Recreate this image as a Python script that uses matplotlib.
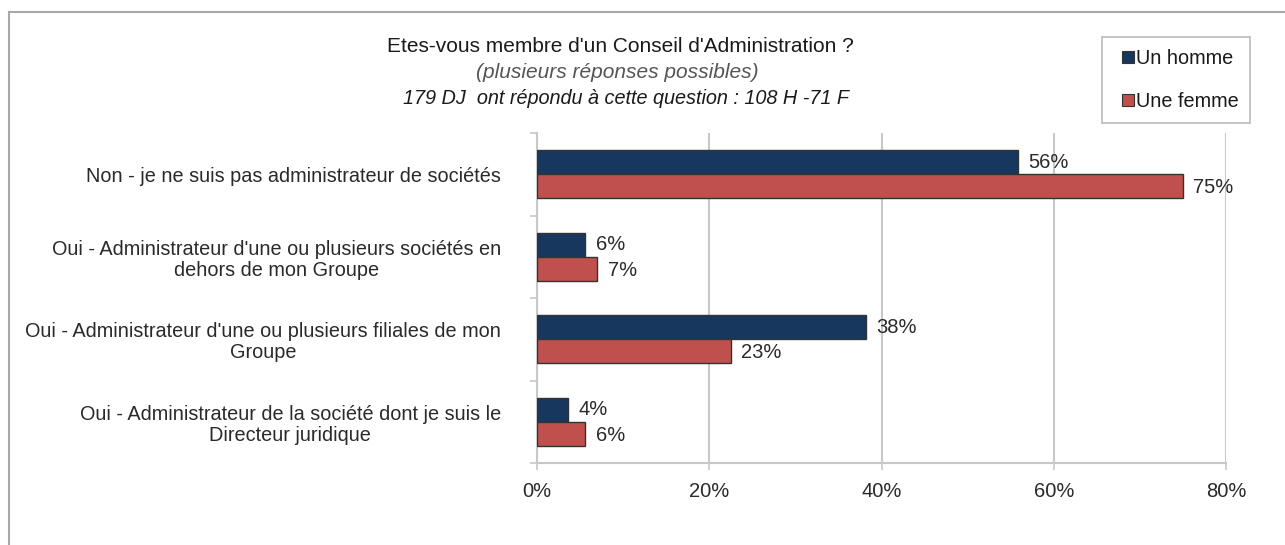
import matplotlib
matplotlib.use("Agg")
import matplotlib.pyplot as plt
from matplotlib.lines import Line2D
import numpy as np

plt.rcParams['font.family'] = ['Liberation Sans', 'DejaVu Sans']

categories = [
    "Non - je ne suis pas administrateur de sociétés",
    "Oui - Administrateur d'une ou plusieurs sociétés en\ndehors de mon Groupe",
    "Oui - Administrateur d'une ou plusieurs filiales de mon\nGroupe",
    "Oui - Administrateur de la société dont je suis le\nDirecteur juridique",
]
homme = [55.8, 5.6, 38.2, 3.6]
femme = [75.0, 7.0, 22.5, 5.6]
homme_labels = ["56%", "6%", "38%", "4%"]
femme_labels = ["75%", "7%", "23%", "6%"]
series_names = ["Un homme", "Une femme"]
xticks = [0, 20, 40, 60, 80]
xtick_labels = ["0%", "20%", "40%", "60%", "80%"]

c_h = "#17375E"
c_f = "#C0504D"
grid_c = "#c8c8c8"
txt_c = "#2a2a2a"

fig = plt.figure(figsize=(12.85, 5.45), dpi=100)
ax = fig.add_axes([537/1285, 1-463/545, (1226-537)/1285, (463-133)/545])

n = len(categories)
y = np.arange(n)
h = 0.29
ax.barh(y - h/2, homme, height=h, color=c_h, edgecolor="#333333", linewidth=1.0, zorder=3)
ax.barh(y + h/2, femme, height=h, color=c_f, edgecolor="#333333", linewidth=1.0, zorder=3)

for i in range(n):
    ax.text(homme[i] + 1.2, y[i] - h/2, homme_labels[i], va="center", ha="left",
            fontsize=14.5, color=txt_c)
    ax.text(femme[i] + 1.2, y[i] + h/2 + 0.02, femme_labels[i], va="center", ha="left",
            fontsize=14.5, color=txt_c)

ax.set_xlim(0, 80)
ax.set_ylim(n - 0.5, -0.5)
ax.set_xticks(xticks)
ax.set_xticklabels(xtick_labels, fontsize=14.5, color=txt_c)
ax.set_yticks(y)
ax.set_yticklabels(categories, fontsize=14.3, color=txt_c, multialignment="center",
                   linespacing=1.15)
ax.set_yticks(np.arange(-0.5, n, 1.0), minor=True)
ax.tick_params(axis="y", which="major", length=0, pad=26)
ax.tick_params(axis="y", which="minor", length=5, color=grid_c, width=1.2)
ax.tick_params(axis="x", length=5, color=grid_c, width=1.2, pad=9)
ax.grid(axis="x", color=grid_c, linewidth=1.5, zorder=0)
for s in ["top", "right"]:
    ax.spines[s].set_visible(False)
for s in ["left", "bottom"]:
    ax.spines[s].set_color(grid_c)
    ax.spines[s].set_linewidth(1.5)

# titles
fig.text(620/1285, 1-46/545, "Etes-vous membre d'un Conseil d'Administration ?",
         ha="center", va="center", fontsize=15, color="#1a1a1a")
fig.text(617/1285, 1-72/545, "(plusieurs réponses possibles)",
         ha="center", va="center", fontsize=15, style="italic", color="#555555")
fig.text(626/1285, 1-98/545, "179 DJ  ont répondu à cette question : 108 H -71 F",
         ha="center", va="center", fontsize=14.3, style="italic", color="#1a1a1a")

# outer frame (left and top edges)
fig.add_artist(Line2D([8.5/1285, 8.5/1285], [0, 1-12/545], transform=fig.transFigure,
                      color="#a8a8a8", linewidth=1.5))
fig.add_artist(Line2D([8.5/1285, 1], [1-12/545, 1-12/545], transform=fig.transFigure,
                      color="#a8a8a8", linewidth=1.5))

handles = [Line2D([], [], marker="s", linestyle="none", markersize=9,
                  markerfacecolor=c_h, markeredgecolor="#333333", markeredgewidth=0.8),
           Line2D([], [], marker="s", linestyle="none", markersize=9,
                  markerfacecolor=c_f, markeredgecolor="#333333", markeredgewidth=0.8)]
leg = fig.legend(handles, series_names, loc="upper left",
                 bbox_to_anchor=(1102/1285, 1-37/545), fontsize=14.3,
                 frameon=True, fancybox=False, handlelength=1.4,
                 handletextpad=-0.3, labelspacing=1.2, borderpad=0.6, borderaxespad=0)
leg.get_frame().set_edgecolor("#aaaaaa")
leg.get_frame().set_linewidth(1.2)
for t in leg.get_texts():
    t.set_color("#1a1a1a")

fig.savefig("out.png", dpi=100)
